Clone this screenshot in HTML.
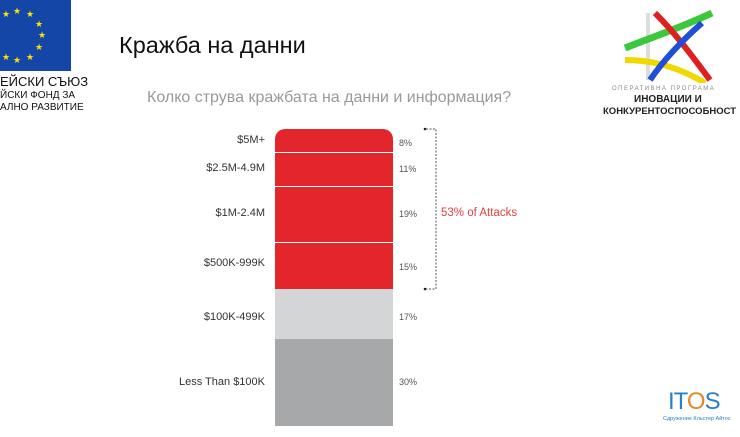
<!DOCTYPE html>
<html><head><meta charset="utf-8"><style>
html,body{margin:0;padding:0;width:740px;height:437px;background:#fff;overflow:hidden;font-family:"Liberation Sans",sans-serif;}
.a{position:absolute;}
.lab{position:absolute;right:475px;font-size:11px;color:#333;text-align:right;white-space:nowrap;}
.pct{position:absolute;left:399px;font-size:9px;color:#555;}
.seg{position:absolute;left:275px;width:118px;}
</style></head><body>
<div class="a" style="left:0;top:0;width:71px;height:71px;background:#1446a8;"></div>
<svg class="a" style="left:0;top:0" width="71" height="71">
<g fill="#ffe000" font-size="9" font-family="DejaVu Sans">
<text x="2" y="17">★</text><text x="13" y="14">★</text><text x="26" y="17">★</text><text x="35" y="27">★</text><text x="38" y="38">★</text><text x="35" y="50">★</text><text x="26" y="60">★</text><text x="13" y="63">★</text><text x="2" y="60">★</text>
</g></svg>
<div class="a" style="left:0;top:75px;font-size:13px;color:#111;line-height:14px">ЕЙСКИ СЪЮЗ</div>
<div class="a" style="left:0;top:90px;font-size:10px;color:#111;line-height:12px">ЙСКИ ФОНД ЗА</div>
<div class="a" style="left:0;top:102px;font-size:10px;color:#111;line-height:12px">АЛНО РАЗВИТИЕ</div>
<div class="a" style="left:119px;top:32px;font-size:23.5px;color:#111;">Кражба на данни</div>
<div class="a" style="left:147px;top:89px;font-size:16px;color:#999;">Колко струва кражбата на данни и информация?</div>
<svg class="a" style="left:620px;top:8px" width="100" height="75">
<path d="M26 5 L30 5 L30 72 L26 72Z" fill="#ddd"/>
<path d="M5 40 C30 30,60 20,92 5" stroke="#3cc83c" stroke-width="7" fill="none"/>
<path d="M5 52 C35 52,60 60,85 75" stroke="#f0d800" stroke-width="6" fill="none"/>
<path d="M35 5 C55 25,70 45,90 72" stroke="#e02020" stroke-width="6" fill="none"/>
<path d="M30 72 C45 50,65 30,82 15" stroke="#1f4fd8" stroke-width="6" fill="none"/>
</svg>
<div class="a" style="left:612px;top:86px;font-size:6px;color:#888;letter-spacing:1.5px">ОПЕРАТИВНА ПРОГРАМА</div>
<div class="a" style="left:634px;top:94px;font-size:10px;font-weight:bold;color:#222;">ИНОВАЦИИ И</div>
<div class="a" style="left:603px;top:106px;font-size:9.5px;font-weight:bold;color:#222;">КОНКУРЕНТОСПОСОБНОСТ</div>
<div class="seg" style="top:129px;height:23px;background:#e3262c;border-radius:10px 10px 0 0"></div>
<div class="seg" style="top:153px;height:33px;background:#e3262c"></div>
<div class="seg" style="top:187px;height:55px;background:#e3262c"></div>
<div class="seg" style="top:243px;height:46px;background:#e3262c"></div>
<div class="seg" style="top:289px;height:50px;background:#d3d5d7"></div>
<div class="seg" style="top:339px;height:87px;background:#a7a8aa"></div>
<div class="lab" style="top:134px">$5M+</div>
<div class="lab" style="top:162px">$2.5M-4.9M</div>
<div class="lab" style="top:207px">$1M-2.4M</div>
<div class="lab" style="top:257px">$500K-999K</div>
<div class="lab" style="top:311px">$100K-499K</div>
<div class="lab" style="top:376px">Less Than $100K</div>
<div class="pct" style="top:138px">8%</div>
<div class="pct" style="top:164px">11%</div>
<div class="pct" style="top:209px">19%</div>
<div class="pct" style="top:262px">15%</div>
<div class="pct" style="top:312px">17%</div>
<div class="pct" style="top:377px">30%</div>
<svg class="a" style="left:420px;top:125px" width="20" height="170">
<path d="M6 4 H16 V164 H6" stroke="#555" stroke-width="1" stroke-dasharray="2,1.5" fill="none"/>
<circle cx="5" cy="4" r="1.3" fill="#222"/><circle cx="5" cy="164" r="1.3" fill="#222"/>
</svg>
<div class="a" style="left:441px;top:207px;font-size:11.5px;color:#e3403f;">53% of Attacks</div>
<div class="a" style="left:668px;top:388px;font-size:24px;color:#2a7fc9;letter-spacing:-1px">IT<span style="color:#e08a2a">O</span>S</div>
<div class="a" style="left:663px;top:416px;font-size:5.5px;color:#2a7fc9;">Сдружение Кльстер Айтос</div>
</body></html>
